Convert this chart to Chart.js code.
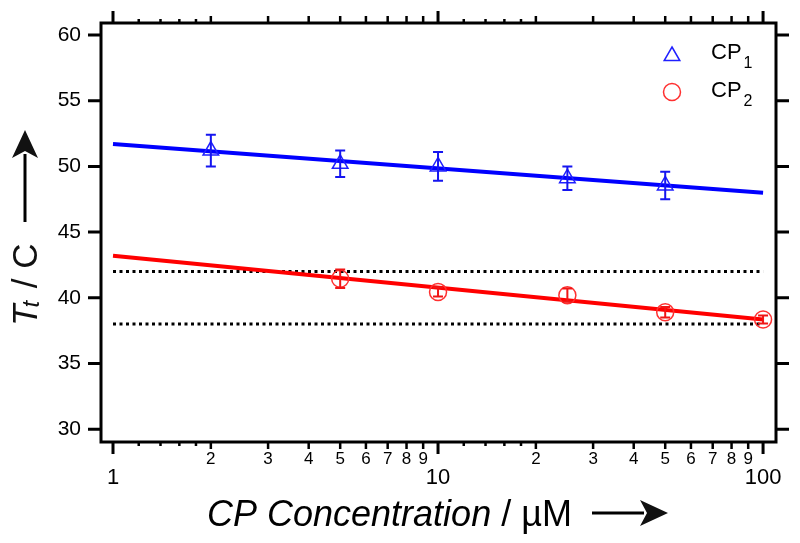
<!DOCTYPE html>
<html>
<head>
<meta charset="utf-8">
<script src="https://cdn.jsdelivr.net/npm/chart.js@4.4.1/dist/chart.umd.min.js"></script>
<style>
    html, body { margin: 0; padding: 0; background: #fff; }
</style>
</head>
<body>
<canvas id="scatter_chart" width="800" height="543"></canvas>
<script>
// CP1 measurements (concentration in uM, Tt in C, error bar half height)
var cp1Conc = [2, 5, 10, 25, 50];
var cp1Tt = [51.2, 50.2, 50.0, 49.1, 48.55];
var cp1Err = [1.2, 1.0, 1.1, 0.9, 1.05];

// CP2 measurements
var cp2Conc = [5, 10, 25, 50, 100];
var cp2Tt = [41.45, 40.45, 40.2, 38.9, 38.35];
var cp2Err = [0.7, 0.35, 0.5, 0.4, 0.3];

// fitted lines, end values at 1 and 100 uM
var fitConc = [1, 100];
var cp1Fit = [51.7, 48.0];
var cp2Fit = [43.2, 38.35];

// dotted guide levels
var guideLevels = [42, 38];

// axis ticks
var yTicks = [30, 35, 40, 45, 50, 55, 60];
var xMajorTicks = [1, 10, 100];
var xMinorTicks = [2, 3, 4, 5, 6, 7, 8, 9, 20, 30, 40, 50, 60, 70, 80, 90];
var xSmallTicks = [1.2, 1.4, 1.6, 1.8, 12, 14, 16, 18];

var FONT = '"Liberation Sans", Arial, sans-serif';
var BLUE = '#0000ff';
var RED = '#ff0000';

function toPoints(xs, ys) {
    return xs.map(function (x, i) { return { x: x, y: ys[i] }; });
}

function drawErrors(ctx, xs, ys, conc, vals, errs, color) {
    ctx.strokeStyle = color;
    ctx.lineWidth = 2;
    conc.forEach(function (c, i) {
        var px = xs.getPixelForValue(c);
        var top = ys.getPixelForValue(vals[i] + errs[i]);
        var bot = ys.getPixelForValue(vals[i] - errs[i]);
        ctx.beginPath();
        ctx.moveTo(px, top); ctx.lineTo(px, bot);
        ctx.moveTo(px - 5, top); ctx.lineTo(px + 5, top);
        ctx.moveTo(px - 5, bot); ctx.lineTo(px + 5, bot);
        ctx.stroke();
    });
}

function arrow(ctx, x1, y1, x2, y2) {
    var ang = Math.atan2(y2 - y1, x2 - x1);
    var hl = 28, hw = 13;
    var bx = x2 - Math.cos(ang) * hl, by = y2 - Math.sin(ang) * hl;
    ctx.strokeStyle = '#000';
    ctx.lineWidth = 3;
    ctx.beginPath();
    ctx.moveTo(x1, y1); ctx.lineTo(bx + Math.cos(ang) * 4, by + Math.sin(ang) * 4);
    ctx.stroke();
    ctx.fillStyle = '#111';
    ctx.beginPath();
    ctx.moveTo(x2, y2);
    ctx.lineTo(bx - Math.sin(ang) * hw, by + Math.cos(ang) * hw);
    ctx.lineTo(bx + Math.cos(ang) * 7, by + Math.sin(ang) * 7);
    ctx.lineTo(bx + Math.sin(ang) * hw, by - Math.cos(ang) * hw);
    ctx.closePath();
    ctx.fill();
}

var axesPlugin = {
    id: 'axes',
    afterDatasetsDraw: function (chart) {
        var ctx = chart.ctx, a = chart.chartArea;
        var xs = chart.scales.x, ys = chart.scales.y;
        ctx.save();

        drawErrors(ctx, xs, ys, cp1Conc, cp1Tt, cp1Err, '#1515f0');
        drawErrors(ctx, xs, ys, cp2Conc, cp2Tt, cp2Err, '#f01515');

        // box
        ctx.strokeStyle = '#000';
        ctx.lineWidth = 3;
        ctx.strokeRect(a.left, a.top, a.right - a.left, a.bottom - a.top);

        // x ticks, bottom and top
        function xTick(v, len, lw) {
            var px = xs.getPixelForValue(v);
            ctx.lineWidth = lw;
            ctx.beginPath();
            ctx.moveTo(px, a.bottom); ctx.lineTo(px, a.bottom + len);
            ctx.moveTo(px, a.top); ctx.lineTo(px, a.top - len);
            ctx.stroke();
        }
        xMajorTicks.forEach(function (v) { xTick(v, 12, 3); });
        xMinorTicks.forEach(function (v) { xTick(v, 7, 2.5); });
        xSmallTicks.forEach(function (v) { xTick(v, 4, 2.5); });

        // y ticks, left and right
        ctx.lineWidth = 3;
        yTicks.forEach(function (v) {
            var py = ys.getPixelForValue(v);
            ctx.beginPath();
            ctx.moveTo(a.left, py); ctx.lineTo(a.left - 13, py);
            ctx.moveTo(a.right, py); ctx.lineTo(a.right + 13, py);
            ctx.stroke();
        });

        // tick labels
        ctx.fillStyle = '#000';
        ctx.textBaseline = 'middle';
        ctx.textAlign = 'right';
        ctx.font = '21px ' + FONT;
        yTicks.forEach(function (v) {
            ctx.fillText(String(v), a.left - 20, ys.getPixelForValue(v));
        });
        ctx.textAlign = 'center';
        ctx.font = '17px ' + FONT;
        xMinorTicks.forEach(function (v) {
            var s = String(v);
            ctx.fillText(s.charAt(0), xs.getPixelForValue(v), a.bottom + 17);
        });
        ctx.font = '22px ' + FONT;
        xMajorTicks.forEach(function (v) {
            ctx.fillText(String(v), xs.getPixelForValue(v), a.bottom + 36);
        });

        // x title
        ctx.textAlign = 'left';
        ctx.textBaseline = 'alphabetic';
        ctx.font = 'italic 36px ' + FONT;
        var t1 = 'CP Concentration';
        ctx.fillText(t1, 207, 526);
        var w1 = ctx.measureText(t1).width;
        ctx.font = '36px ' + FONT;
        ctx.fillText(' / \u00b5M', 207 + w1, 526);
        arrow(ctx, 592, 513, 668, 513);

        // y title
        ctx.save();
        ctx.translate(37, 326);
        ctx.rotate(-Math.PI / 2);
        ctx.font = 'italic 35px ' + FONT;
        ctx.fillText('T', 0, 0);
        var wt = ctx.measureText('T').width;
        ctx.font = 'italic 24px ' + FONT;
        ctx.fillText('t', wt - 3, 2);
        wt += ctx.measureText('t').width;
        ctx.font = '35px ' + FONT;
        ctx.fillText(' / C', wt, 0);
        ctx.restore();
        arrow(ctx, 25, 222, 25, 130);

        // legend
        ctx.lineWidth = 1.5;
        ctx.strokeStyle = '#2020ff';
        ctx.beginPath();
        ctx.moveTo(672, 47);
        ctx.lineTo(672 + 7.8, 60.5);
        ctx.lineTo(672 - 7.8, 60.5);
        ctx.closePath();
        ctx.stroke();
        ctx.strokeStyle = '#ff3030';
        ctx.beginPath();
        ctx.arc(672, 92, 8.5, 0, Math.PI * 2);
        ctx.stroke();
        ctx.fillStyle = '#000';
        [['1', 58.6], ['2', 97.3]].forEach(function (e) {
            ctx.font = '22px ' + FONT;
            ctx.fillText('CP', 711, e[1]);
            var w = ctx.measureText('CP').width;
            ctx.font = '16px ' + FONT;
            ctx.fillText(e[0], 711 + w + 2, e[1] + 9);
        });

        ctx.restore();
    }
};

new Chart(document.getElementById('scatter_chart').getContext('2d'), {
    type: 'scatter',
    data: {
        datasets: [{
            label: 'CP1',
            data: toPoints(cp1Conc, cp1Tt),
            pointStyle: 'triangle',
            pointRadius: 9,
            pointBorderWidth: 1.5,
            borderColor: '#2020ff',
            backgroundColor: 'rgba(0,0,0,0)'
        }, {
            label: 'CP2',
            data: toPoints(cp2Conc, cp2Tt),
            pointStyle: 'circle',
            pointRadius: 8.5,
            pointBorderWidth: 1.5,
            borderColor: '#ff3030',
            backgroundColor: 'rgba(0,0,0,0)'
        }, {
            label: 'CP1 fit',
            data: toPoints(fitConc, cp1Fit),
            showLine: true,
            pointRadius: 0,
            borderWidth: 4,
            borderColor: BLUE
        }, {
            label: 'CP2 fit',
            data: toPoints(fitConc, cp2Fit),
            showLine: true,
            pointRadius: 0,
            borderWidth: 4,
            borderColor: RED
        }, {
            label: 'upper',
            data: toPoints(fitConc, [guideLevels[0], guideLevels[0]]),
            showLine: true,
            pointRadius: 0,
            borderWidth: 3,
            borderDash: [3, 3.5],
            borderColor: '#000'
        }, {
            label: 'lower',
            data: toPoints(fitConc, [guideLevels[1], guideLevels[1]]),
            showLine: true,
            pointRadius: 0,
            borderWidth: 3,
            borderDash: [3, 3.5],
            borderColor: '#000'
        }]
    },
    options: {
        responsive: false,
        animation: false,
        events: [],
        layout: { padding: { left: 101, right: 24, top: 23, bottom: 101 } },
        plugins: { legend: { display: false }, tooltip: { enabled: false } },
        scales: {
            x: { type: 'logarithmic', display: false, bounds: 'data', min: 0.9185, max: 109.6 },
            y: { type: 'linear', display: false, bounds: 'data', min: 29.03, max: 60.91 }
        }
    },
    plugins: [axesPlugin]
});
</script>
</body>
</html>
